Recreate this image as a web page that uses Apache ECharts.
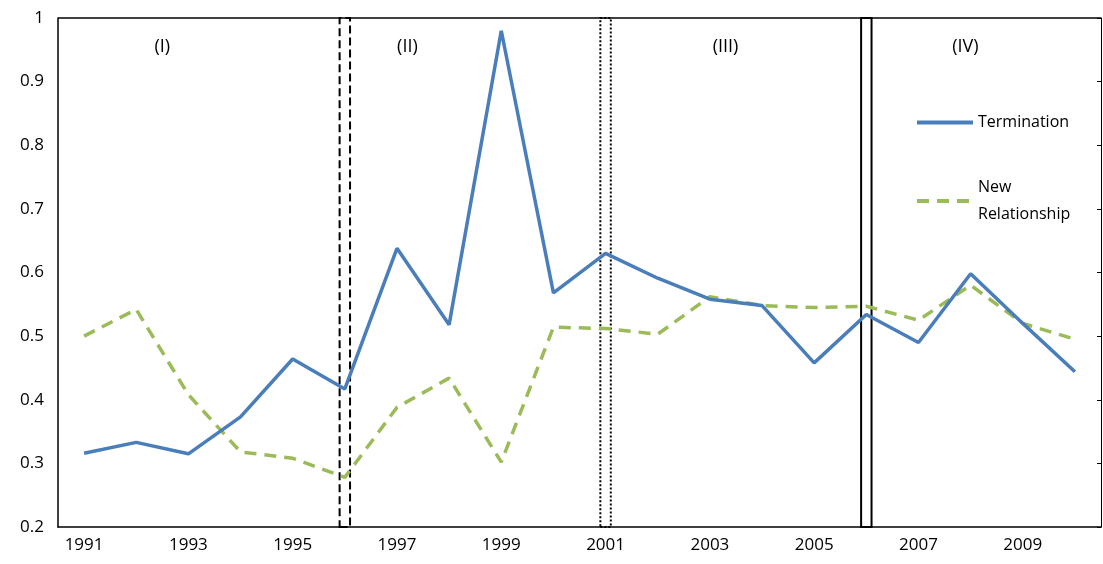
<!DOCTYPE html>
<html><head><meta charset="utf-8">
<script src="https://cdn.jsdelivr.net/npm/echarts@6/dist/echarts.min.js"></script>
<style>html,body{margin:0;padding:0;background:#fff}#chart{width:1103px;height:564px}</style>
</head><body><div id="chart"></div>
<script>
// data
var years = ['1991','1992','1993','1994','1995','1996','1997','1998','1999','2000',
             '2001','2002','2003','2004','2005','2006','2007','2008','2009','2010'];
var termination = [0.316,0.333,0.315,0.373,0.464,0.417,0.638,0.518,0.98,0.568,
                   0.63,0.591,0.558,0.548,0.458,0.534,0.49,0.598,0.52,0.444];
var newRelationship = [0.5,0.542,0.408,0.318,0.308,0.278,0.388,0.434,0.302,0.514,
                       0.512,0.503,0.562,0.548,0.545,0.547,0.525,0.58,0.52,0.495];
var periodLabels = ['(I)','(II)','(III)','(IV)'];
var periodLabelPos = [1.5, 6.2, 12.3, 16.9];   // category index where label sits
var breaks = [5, 10, 15];                       // 1996, 2001, 2006
var breakStyles = ['dashed','dotted','solid'];

var font = 'Open Sans, Liberation Sans, sans-serif';

var areas = breaks.map(function (b, i) {
  return [{ xAxis: b - 0.1, yAxis: 0.2, itemStyle: { color: 'rgba(0,0,0,0)', borderColor: '#000', borderWidth: 2, borderType: breakStyles[i] } },
          { xAxis: b + 0.1, yAxis: 1 }];
});
var labelPoints = periodLabels.map(function (t, i) {
  return { coord: [periodLabelPos[i], 0.955], value: t };
});

var chart = echarts.init(document.getElementById('chart'));
chart.setOption({
  animation: false,
  textStyle: { fontFamily: font },
  grid: { left: 58, right: 2, top: 18, bottom: 37 },
  legend: {
    orient: 'vertical', left: 910, top: 104, itemGap: 38,
    itemWidth: 56, itemHeight: 10,
    itemStyle: { opacity: 0 },
    lineStyle: { width: 4 },
    textStyle: { fontSize: 16, color: '#000', lineHeight: 27 },
    formatter: function (n) { return n === 'New Relationship' ? 'New\nRelationship' : n; },
    data: ['Termination', 'New Relationship']
  },
  xAxis: [{
    type: 'category', data: years, boundaryGap: true,
    axisLine: { lineStyle: { color: '#000', width: 1.5 } },
    axisTick: { interval: 1, length: 5, lineStyle: { color: '#000' } },
    axisLabel: { interval: 1, color: '#000', fontSize: 17, margin: 10 }
  }, {
    type: 'value', min: -0.5, max: 19.5, show: false, position: 'top'
  }],
  yAxis: [{
    type: 'value', min: 0.2, max: 1, interval: 0.1,
    axisLine: { show: true, onZero: false, lineStyle: { color: '#000', width: 1.5 } },
    axisTick: { show: false },
    splitLine: { show: false },
    axisLabel: { color: '#000', fontSize: 17, margin: 14,
      formatter: function (v) { return Math.round(v * 10) / 10 + ''; } }
  }, {
    type: 'value', min: 0.2, max: 1, interval: 0.1, position: 'right',
    axisLine: { show: true, onZero: false, lineStyle: { color: '#000', width: 1 } },
    axisTick: { show: true, inside: true, length: 4, lineStyle: { color: '#000' } },
    axisLabel: { show: false }, splitLine: { show: false }
  }],
  graphic: [{ type: 'line', shape: { x1: 58, y1: 18, x2: 1101, y2: 18 }, style: { stroke: '#000', lineWidth: 1.5 } }],
  series: [{
    name: 'Termination', type: 'line', data: termination, symbol: 'none',
    color: '#4a7ebb', lineStyle: { width: 3.5, color: '#4a7ebb' }, z: 3
  }, {
    name: 'New Relationship', type: 'line', data: newRelationship, symbol: 'none',
    color: '#9bbb59', lineStyle: { width: 3.5, color: '#9bbb59', type: [12, 8] }, z: 2
  }, {
    type: 'scatter', xAxisIndex: 1, data: [], silent: true,
    markArea: { silent: true, data: areas },
    markPoint: {
      symbol: 'rect', symbolSize: 1, itemStyle: { color: 'rgba(0,0,0,0)' },
      label: { show: true, position: 'inside', color: '#000', fontSize: 18, formatter: '{c}' },
      data: labelPoints
    }
  }]
});
</script></body></html>
